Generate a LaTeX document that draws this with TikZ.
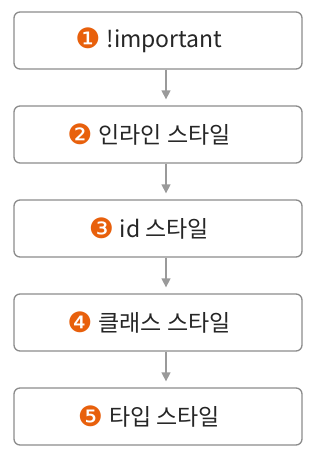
\documentclass[tikz,border=0pt]{standalone}
\usepackage{fontspec}
\setmainfont{Noto Sans CJK KR}
\newfontfamily\dingfont{DejaVu Sans}
\usetikzlibrary{arrows.meta}
\definecolor{randgrau}{HTML}{8C8C8C}
\definecolor{pfeilgrau}{HTML}{9A9A9A}
\definecolor{zifforange}{HTML}{E8600C}
\newcommand{\ziffer}[1]{\raisebox{-1pt}{\dingfont\fontsize{28}{28}\selectfont\color{zifforange}\ifcase#1\or ❶\or ❷\or ❸\or ❹\or ❺\fi}}
\begin{document}
\begin{tikzpicture}[>={Triangle[width=9pt,length=9pt]},
    font=\fontsize{23}{27}\selectfont,
    stufe/.style={draw=randgrau, line width=1.3pt, rounded corners=6pt, fill=white,
        minimum width=288pt, minimum height=57pt, text=black!85},
    pfeil/.style={->, draw=pfeilgrau, fill=pfeilgrau, line width=1.4pt, shorten >=6pt}]

        \useasboundingbox (0,0) rectangle (316pt,450pt);

        % --- Riquadri delle priorita ---
        \foreach \i/\t in {
            1/!important,
            2/인라인 스타일,
            3/id 스타일,
            4/클래스 스타일,
            5/타입 스타일
        } {
            \node[stufe] (s\i) at ({158pt},{409.5pt-94pt*(\i-1)})
                {\hspace*{-18pt}\ziffer{\i}\hspace{6pt}\t};
        }

        % --- Frecce tra i riquadri ---
        \foreach \i/\j in {1/2, 2/3, 3/4, 4/5} {
            \draw[pfeil] ([xshift=8pt]s\i.south) -- ([xshift=8pt]s\j.north);
        }

    \end{tikzpicture}
\end{document}
